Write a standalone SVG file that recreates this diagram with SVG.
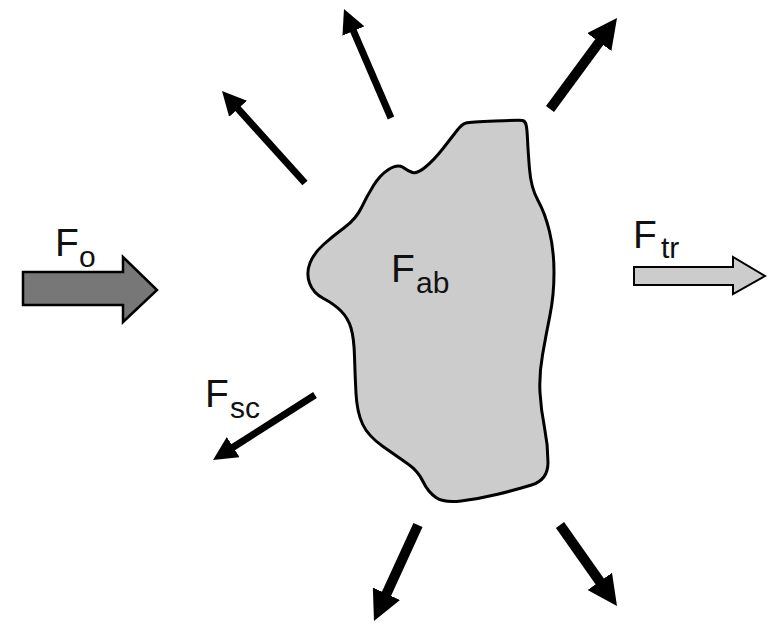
<svg xmlns="http://www.w3.org/2000/svg" width="769" height="624" viewBox="0 0 769 624">
<style>
.lbl{font-family:"Liberation Sans",Arial,sans-serif;fill:#111;font-size:39px}
.sub{font-size:30px}
.ray{stroke:#000;fill:none;stroke-linecap:butt}
.thin{stroke-width:7}
.thick{stroke-width:10}
</style>
<defs>
<marker id="hs" markerUnits="userSpaceOnUse" markerWidth="24" markerHeight="24" refX="4" refY="12" orient="auto" viewBox="0 0 24 24"><path d="M0,0 L24,12 L0,24 Z" fill="#000"/></marker>
<marker id="hl" markerUnits="userSpaceOnUse" markerWidth="30" markerHeight="30" refX="5" refY="15" orient="auto" viewBox="0 0 30 30"><path d="M0,0 L30,15 L0,30 Z" fill="#000"/></marker>
</defs>
<rect width="769" height="624" fill="#fff"/>
<g id="particle">
<path d="M443,148.5 Q452,137 457,130.5 Q462,124 466,123 Q470,122 495,121 Q520,120 522.5,120.5 Q525,121 526,124.5 Q527,128 527.5,139 Q528,150 529.5,169 Q531,188 538,200.5 Q545,213 549.5,231.5 Q554,250 554,272.5 Q554,295 550,315 Q546,335 542.5,355 Q539,375 540,392.5 Q541,410 544.5,427.5 Q548,445 548,462.5 Q548,480 531.5,485 Q515,490 496.5,494.5 Q478,499 461,501 Q444,503 436,497.5 Q428,492 423,481.5 Q418,471 408,464 Q398,457 383,446.5 Q368,436 362.5,424 Q357,412 356,393.5 Q355,375 354.5,356.5 Q354,338 351,328 Q348,318 341,311 Q334,304 323.5,298.5 Q313,293 309.5,283 Q306,273 310,263 Q314,253 323.5,244.5 Q333,236 344.5,227.5 Q356,219 361.5,207.5 Q367,196 373.5,185.5 Q380,175 388.5,169.5 Q397,164 402.5,167 Q408,171 412.5,172.5 Q417,174 425.5,167 Q434,160 443,148.5 Z" fill="#cccccc" stroke="#000" stroke-width="3" stroke-linejoin="round"/>
<text class="lbl" x="391" y="282">F<tspan class="sub" x="416" y="293">ab</tspan></text>
</g>
<g id="incident">
<polygon points="23,272 123,272 123,257 157,290 123,322 123,305 23,305" fill="#777" stroke="#000" stroke-width="2.5" stroke-linejoin="miter"/>
<text class="lbl" x="55" y="256">F<tspan class="sub" x="79" y="267">o</tspan></text>
</g>
<g id="transmitted">
<polygon points="634,267 733,267 733,257 765,276 733,294 733,285 634,285" fill="#ccc" stroke="#000" stroke-width="2"/>
<text class="lbl" x="633" y="248">F<tspan class="sub" x="661" y="258">tr</tspan></text>
</g>
<g id="scattered-label">
<text class="lbl" x="205" y="407">F<tspan class="sub" x="230" y="418">sc</tspan></text>
</g>
<g id="connectors">
<line class="ray thin" x1="305" y1="183" x2="235.4" y2="105.8" marker-end="url(#hs)"/>
<line class="ray thin" x1="391" y1="118" x2="351.9" y2="27.4" marker-end="url(#hs)"/>
<line class="ray thick" x1="550" y1="109" x2="602.2" y2="38.1" marker-end="url(#hl)"/>
<line class="ray thin" x1="315" y1="395" x2="229.9" y2="449.3" marker-end="url(#hs)"/>
<line class="ray thick" x1="418" y1="525" x2="384.4" y2="598.3" marker-end="url(#hl)"/>
<line class="ray thick" x1="560" y1="525" x2="602.6" y2="585.5" marker-end="url(#hl)"/>
</g>
</svg>
